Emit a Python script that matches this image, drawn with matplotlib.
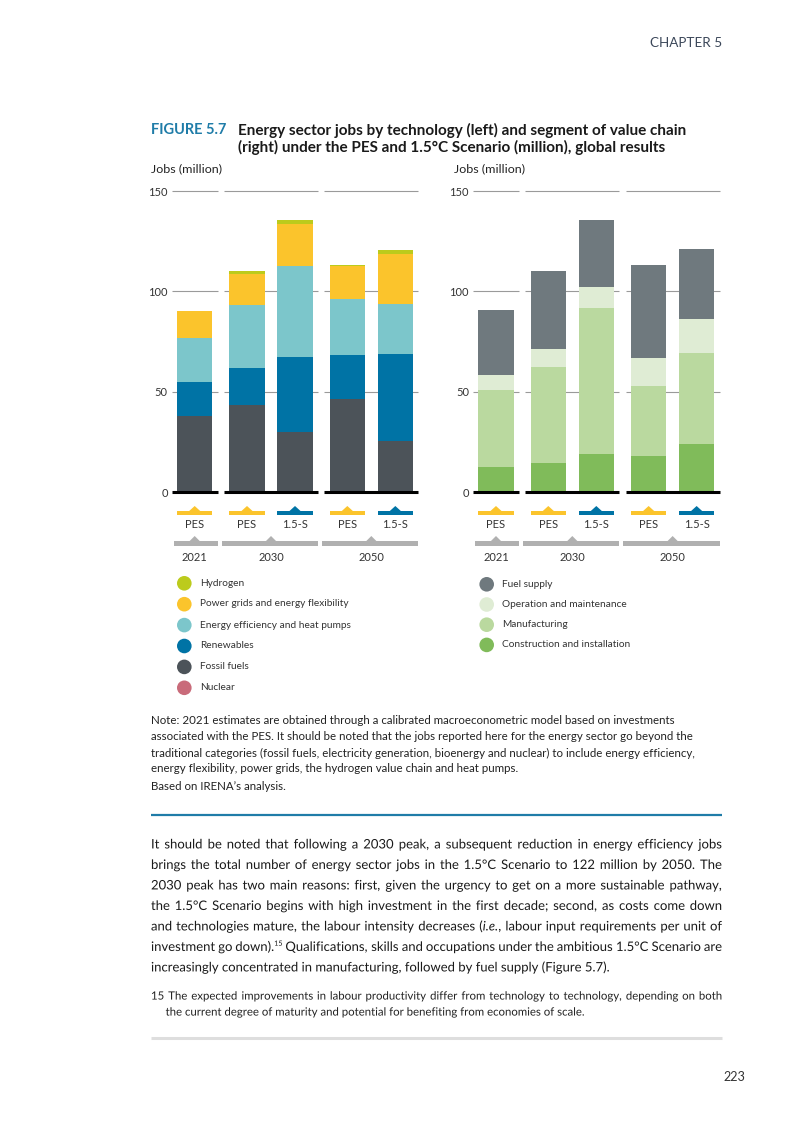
import matplotlib
matplotlib.use("Agg")
import matplotlib.pyplot as plt
from matplotlib.patches import Rectangle, Polygon, Circle, PathPatch
from matplotlib.textpath import TextPath
from matplotlib.font_manager import FontProperties
from matplotlib.transforms import Affine2D

"""
IRENA figure 5.7: energy sector jobs by technology and by value chain segment.
Page is laid out in pixel coordinates (803 x 1134 at 100 dpi).
"""

W, H = 803, 1134
FONT = ["Lato", "DejaVu Sans"]

# --- data (million jobs) ---
years = ["2021", "2030", "2050"]
scenarios = ["PES", "PES", "1.5-S", "PES", "1.5-S"]
bar_group = [0, 1, 1, 2, 2]

fossil = [38.2, 43.7, 29.8, 46.2, 25.7]
nuclear = [0.0, 0.0, 0.0, 0.0, 0.0]
renewables = [16.6, 18.0, 37.4, 22.1, 43.0]
efficiency = [21.9, 31.5, 45.5, 27.9, 25.0]
grids = [13.5, 15.5, 21.1, 16.6, 25.0]
hydrogen = [0.0, 1.5, 1.9, 0.5, 2.1]

construction = [12.8, 14.8, 19.3, 18.3, 23.8]
manufacturing = [38.0, 47.5, 72.5, 34.5, 45.5]
operation = [7.5, 9.0, 10.5, 14.0, 17.0]
fuel_supply = [32.5, 39.0, 33.5, 46.5, 35.0]

tech_labels = ["Hydrogen", "Power grids and energy flexibility",
               "Energy efficiency and heat pumps", "Renewables",
               "Fossil fuels", "Nuclear"]
chain_labels = ["Fuel supply", "Operation and maintenance",
                "Manufacturing", "Construction and installation"]

C = {"Hydrogen": "#bccb1c", "Power grids and energy flexibility": "#fbc42c",
     "Energy efficiency and heat pumps": "#7cc6cb", "Renewables": "#0073a5",
     "Fossil fuels": "#4c5359", "Nuclear": "#c96b7a",
     "Fuel supply": "#6f797e", "Operation and maintenance": "#dfecd4",
     "Manufacturing": "#bad99f", "Construction and installation": "#80bb5a"}
SCEN_COL = {"PES": "#fbc42c", "1.5-S": "#0073a5"}
GRID = "#9a9a9a"
YEARBAR = "#b0b0b0"

left_series = [("Fossil fuels", fossil), ("Nuclear", nuclear),
               ("Renewables", renewables),
               ("Energy efficiency and heat pumps", efficiency),
               ("Power grids and energy flexibility", grids),
               ("Hydrogen", hydrogen)]
right_series = [("Construction and installation", construction),
                ("Manufacturing", manufacturing),
                ("Operation and maintenance", operation),
                ("Fuel supply", fuel_supply)]

UNIT = 48.0                      # px per bar slot
pos = [i + 0.09 * g for i, g in enumerate(bar_group)]
BW = 35.5 / UNIT
XLIM = (-0.431, -0.431 + 250 / UNIT)


def groups():
    out = []
    for g in range(len(years)):
        idx = [i for i, b in enumerate(bar_group) if b == g]
        out.append((pos[idx[0]] - 0.48, pos[idx[-1]] + 0.48))
    return out


fig = plt.figure(figsize=(W / 100, H / 100), dpi=100)
pg = fig.add_axes([0, 0, 1, 1])
pg.set_xlim(0, W)
pg.set_ylim(H, 0)
pg.autoscale(False)
pg.axis("off")
rend = fig.canvas.get_renderer()


def fit(txt, x, y, width, **kw):
    t = pg.text(x, y, txt, family=FONT, fontsize=10, **kw)
    w = t.get_window_extent(rend).width
    t.set_fontsize(10 * width / w)
    return t


def text_width(s, size, style="normal"):
    t = pg.text(0, 0, s, family=FONT, fontsize=size, style=style)
    w = t.get_window_extent(rend).width
    t.remove()
    return w


def draw_word(s, x, base, size, color, style="normal"):
    # glyph outlines keep every word on the same baseline
    prop = FontProperties(family="Lato", style=style)
    tp = TextPath((0, 0), s, size=size * 100 / 72, prop=prop)
    tr = Affine2D().scale(1, -1).translate(x, base) + pg.transData
    pg.add_patch(PathPatch(tp, transform=tr, facecolor=color, lw=0))


def segments(word, size):
    # "^" starts a superscript tail, "*" toggles italic
    main, _, sup = word.partition("^")
    segs = []
    italic = False
    for k, chunk in enumerate(main.split("*")):
        if chunk:
            segs.append((chunk, size, 0.0, "italic" if italic else "normal"))
        italic = not italic
    if sup:
        segs.append((sup, size * 0.55, -0.4 * size * 100 / 72, "normal"))
    return segs


def justify(line, y, x0, x1, size, color):
    base = y + 0.34 * size * 100 / 72
    parts = []
    for word in line.split():
        segs = segments(word, size)
        widths = [text_width(s, sz, st) for s, sz, dy, st in segs]
        parts.append((segs, widths))
    total = sum(sum(w) for _, w in parts)
    gap = (x1 - x0 - total) / (len(parts) - 1)
    x = x0
    for segs, widths in parts:
        for (s, sz, dy, st), w in zip(segs, widths):
            draw_word(s, x, base + dy, sz, color, st)
            x += w
        x += gap


def chart(left_px, series):
    ax = fig.add_axes([left_px / W, 1 - 492.3 / H, 250 / W, 301.3 / H])
    ax.patch.set_alpha(0)
    ax.set_xlim(*XLIM)
    ax.set_ylim(0, 150)
    bottom = [0.0] * len(pos)
    for name, vals in series:
        ax.bar(pos, vals, width=BW, bottom=bottom, color=C[name], zorder=2,
               linewidth=0)
        bottom = [b + v for b, v in zip(bottom, vals)]
    for x0, x1 in groups():
        for y in (50, 100, 150):
            ax.hlines(y, x0, x1, color=GRID, lw=0.8, zorder=1, clip_on=False)
        ax.hlines(0, x0, x1, color="black", lw=2.2, zorder=3, clip_on=False)
    ax.set_xticks([])
    ax.set_yticks([0, 50, 100, 150])
    ax.tick_params(length=0, pad=4.5, labelsize=8, labelcolor="#333333")
    for lab in ax.get_yticklabels():
        lab.set_family(FONT)
    for sp in ax.spines.values():
        sp.set_visible(False)

    # category markers under the bars (y in page pixels)
    mk = fig.add_axes([left_px / W, 1 - 570 / H, 250 / W, 70 / H])
    mk.set_xlim(*XLIM)
    mk.set_ylim(570, 500)
    mk.axis("off")
    for p, s in zip(pos, scenarios):
        col = SCEN_COL[s]
        mk.add_patch(Rectangle((p - 0.365, 510.7), 0.73, 4.6, color=col, lw=0))
        mk.add_patch(Polygon([(p - 0.115, 511), (p, 506), (p + 0.115, 511)],
                             color=col, lw=0))
        mk.text(p, 525, s, ha="center", va="center", fontsize=8,
                family=FONT, color="#333333")
    for (x0, x1), yr in zip(groups(), years):
        xc = (x0 + x1) / 2
        mk.add_patch(Rectangle((x0 - 0.05, 541.3), x1 - x0 + 0.05, 4.7,
                               color=YEARBAR, lw=0))
        mk.add_patch(Polygon([(xc - 0.115, 541.5), (xc, 536), (xc + 0.115, 541.5)],
                             color=YEARBAR, lw=0))
        mk.text(xc, 557.5, yr, ha="center", va="center", fontsize=8,
                family=FONT, color="#333333")
    return ax


chart(174, left_series)
chart(475.3, right_series)

# --- legends ---
leg_size = fit(tech_labels[1], 200, 603.7, 149, va="center",
               color="#333333").get_fontsize()
for i, lab in enumerate(tech_labels):
    y = 583.3 + 20.9 * i
    pg.add_patch(Circle((184.3, y), 7.3, color=C[lab], lw=0))
    if i != 1:
        pg.text(200, y, lab, family=FONT, fontsize=leg_size, va="center",
                color="#333333")
for i, lab in enumerate(chain_labels):
    y = 584.3 + 20.2 * i
    pg.add_patch(Circle((486.7, y), 7.3, color=C[lab], lw=0))
    pg.text(501.7, y, lab, family=FONT, fontsize=leg_size, va="center",
            color="#333333")

# --- page header and title ---
fit("CHAPTER 5", 721.7, 43.3, 72, ha="right", va="center", color="#3b4759")
fit("FIGURE 5.7", 151, 130, 76, va="center", weight="bold", color="#1f7ca8")
tsize = fit("Energy sector jobs by technology (left) and segment of value chain",
            238, 130, 450, va="center", weight="bold",
            color="#1a1a1a").get_fontsize()
pg.text(238, 147, "(right) under the PES and 1.5°C Scenario (million), global results",
        family=FONT, fontsize=tsize, weight="bold", va="center", color="#1a1a1a")
fit("Jobs (million)", 151, 169, 71, va="center", color="#222222")
fit("Jobs (million)", 453.8, 169, 71, va="center", color="#222222")

# --- note ---
note = ["Note: 2021 estimates are obtained through a calibrated macroeconometric model based on investments",
        "associated with the PES. It should be noted that the jobs reported here for the energy sector go beyond the",
        "traditional categories (fossil fuels, electricity generation, bioenergy and nuclear) to include energy efficiency,",
        "energy flexibility, power grids, the hydrogen value chain and heat pumps."]
nsize = fit(note[2], 151, 753, 544, va="center", color="#222222").get_fontsize()
for i, line in enumerate(note):
    if i != 2:
        pg.text(151, 721 + 16 * i, line, family=FONT, fontsize=nsize,
                va="center", color="#222222")
pg.text(151, 787, "Based on IRENA\u2019s analysis.", family=FONT, fontsize=nsize,
        va="center", color="#222222")
pg.hlines(815, 151, 722, color="#1f7ca8", lw=1.6)

# --- body paragraph (justified) ---
body = ["It should be noted that following a 2030 peak, a subsequent reduction in energy efficiency jobs",
        "brings the total number of energy sector jobs in the 1.5°C Scenario to 122 million by 2050. The",
        "2030 peak has two main reasons: first, given the urgency to get on a more sustainable pathway,",
        "the 1.5°C Scenario begins with high investment in the first decade; second, as costs come down",
        "and technologies mature, the labour intensity decreases (*i.e.*, labour input requirements per unit of",
        "investment go down).^15 Qualifications, skills and occupations under the ambitious 1.5°C Scenario are"]
last = "increasingly concentrated in manufacturing, followed by fuel supply (Figure 5.7)."
bsize = 10 * 459 / text_width(last, 10)
for i, line in enumerate(body):
    justify(line, 844 + 20.5 * i, 151, 722, bsize, "#1a1a1a")
draw_word(last, 151, 967 + 0.34 * bsize * 100 / 72, bsize, "#1a1a1a")

# --- footnote ---
foot2 = "the current degree of maturity and potential for benefiting from economies of scale."
fsize = 10 * 420 / text_width(foot2, 10)
justify("15 The expected improvements in labour productivity differ from technology to technology, depending on both",
        995.7, 151, 722, fsize, "#222222")
draw_word(foot2, 165.6, 1011.7 + 0.34 * fsize * 100 / 72, fsize, "#222222")
pg.hlines(1038.3, 151, 722, color="#dedede", lw=2.2)

fit("223", 745, 1077, 22, ha="right", va="center", color="#333333")

fig.savefig("out.png", dpi=100)
